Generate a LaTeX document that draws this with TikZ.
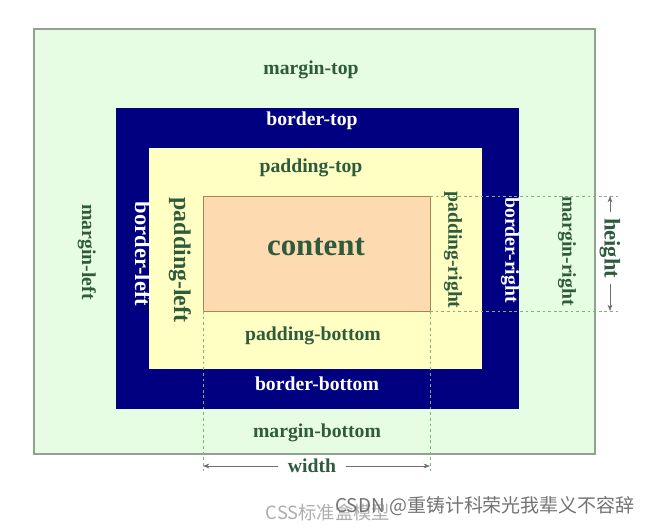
\documentclass[tikz,border=0pt]{standalone}
\usepackage{fontspec}
\setmainfont{Liberation Serif}
\newfontfamily\cjkfont{Noto Sans CJK SC}
\usetikzlibrary{arrows.meta}
\definecolor{marginfill}{HTML}{E6FCE3}
\definecolor{marginline}{HTML}{8FA38F}
\definecolor{bordernavy}{HTML}{000080}
\definecolor{paddingfill}{HTML}{FFFFC4}
\definecolor{contentfill}{HTML}{FDDAB0}
\definecolor{contentline}{HTML}{9C8A52}
\definecolor{labelgreen}{HTML}{2E5B3C}
\definecolor{guidegreen}{HTML}{7FB27F}
\definecolor{dimgray}{HTML}{6E6E6E}

\begin{document}
\begin{tikzpicture}[
  x=0.025cm, y=-0.025cm,
  lbl/.style={font=\bfseries\fontsize{14}{16}\selectfont,text=labelgreen,inner sep=0pt},
  wlbl/.style={lbl,text=white},
  vert/.style={rotate=-90},
  guide/.style={draw=guidegreen,dash pattern=on 2pt off 2pt,line width=0.5pt},
  dim/.style={-{Stealth[length=1.6mm,width=1.2mm]},draw=dimgray,line width=0.5pt,shorten <=4pt},
  wmark/.style={font=\cjkfont\fontsize{13}{15}\selectfont,inner sep=0pt}
]
\useasboundingbox (0,0) rectangle (656,527);

% the four boxes
\draw[draw=marginline,fill=marginfill,line width=0.8pt] (34,29) rectangle (595,454);
\fill[bordernavy] (116,108) rectangle (519,409);
\fill[paddingfill] (149,148) rectangle (482,369);
\draw[draw=contentline,fill=contentfill,line width=0.6pt] (203,196) rectangle (430,311);

% guide ends
\coordinate (ctr) at (430,196);
\coordinate (cbr) at (430,311);
\coordinate (cbl) at (203,311);
\coordinate (gtop) at (620,196);
\coordinate (gbot) at (620,311);
\coordinate (gleft) at (203,471);
\coordinate (gright) at (430,471);

% labels
\node[lbl] (mtop) at (311,70) {margin-top};
\node[wlbl] (btop) at (312,121) {border-top};
\node[lbl] (ptop) at (311,168) {padding-top};
\node[lbl,font=\bfseries\fontsize{22}{24}\selectfont] (content) at (316,247) {content};
\node[lbl,vert] (mleft) at (87,252) {margin-left};
\node[wlbl,vert,font=\bfseries\fontsize{16}{18}\selectfont] (bleft) at (143,254) {border-left};
\node[lbl,vert,font=\bfseries\fontsize{17}{19}\selectfont] (pleft) at (180,260) {padding-left};
\node[lbl,vert] (pright) at (453,250) {padding-right};
\node[wlbl,vert] (bright) at (510,250) {border-right};
\node[lbl,vert] (mright) at (567,251) {margin-right};
\node[lbl] (pbot) at (313,336) {padding-bottom};
\node[wlbl] (bbot) at (317,384) {border-bottom};
\node[lbl] (mbot) at (317,433) {margin-bottom};
\node[lbl,vert,font=\bfseries\fontsize{16}{18}\selectfont] (height) at (610,248) {height};
\node[lbl] (width) at (312,466) {width};

% dashed guides
\draw[guide] (ctr) -- (gtop);
\draw[guide] (cbr) -- (gbot);
\draw[guide] (cbl) -- (gleft);
\draw[guide] (cbr) -- (gright);

% dimension arrows
\draw[dim] (height.west) -- (height.west |- gtop);
\draw[dim] (height.east) -- (height.east |- gbot);
\draw[dim,shorten <=7pt] (width.west) -- (width.west -| gleft);
\draw[dim,shorten <=7pt] (width.east) -- (width.east -| gright);

% watermarks
\node[wmark,text=black!32] (caption) at (328,512) {CSS标准盒模型};
\node[wmark,text=black!55,font=\cjkfont\fontsize{13.5}{15}\selectfont] (credit) at (485,506) {CSDN @重铸计科荣光我辈义不容辞};
\end{tikzpicture}
\end{document}
